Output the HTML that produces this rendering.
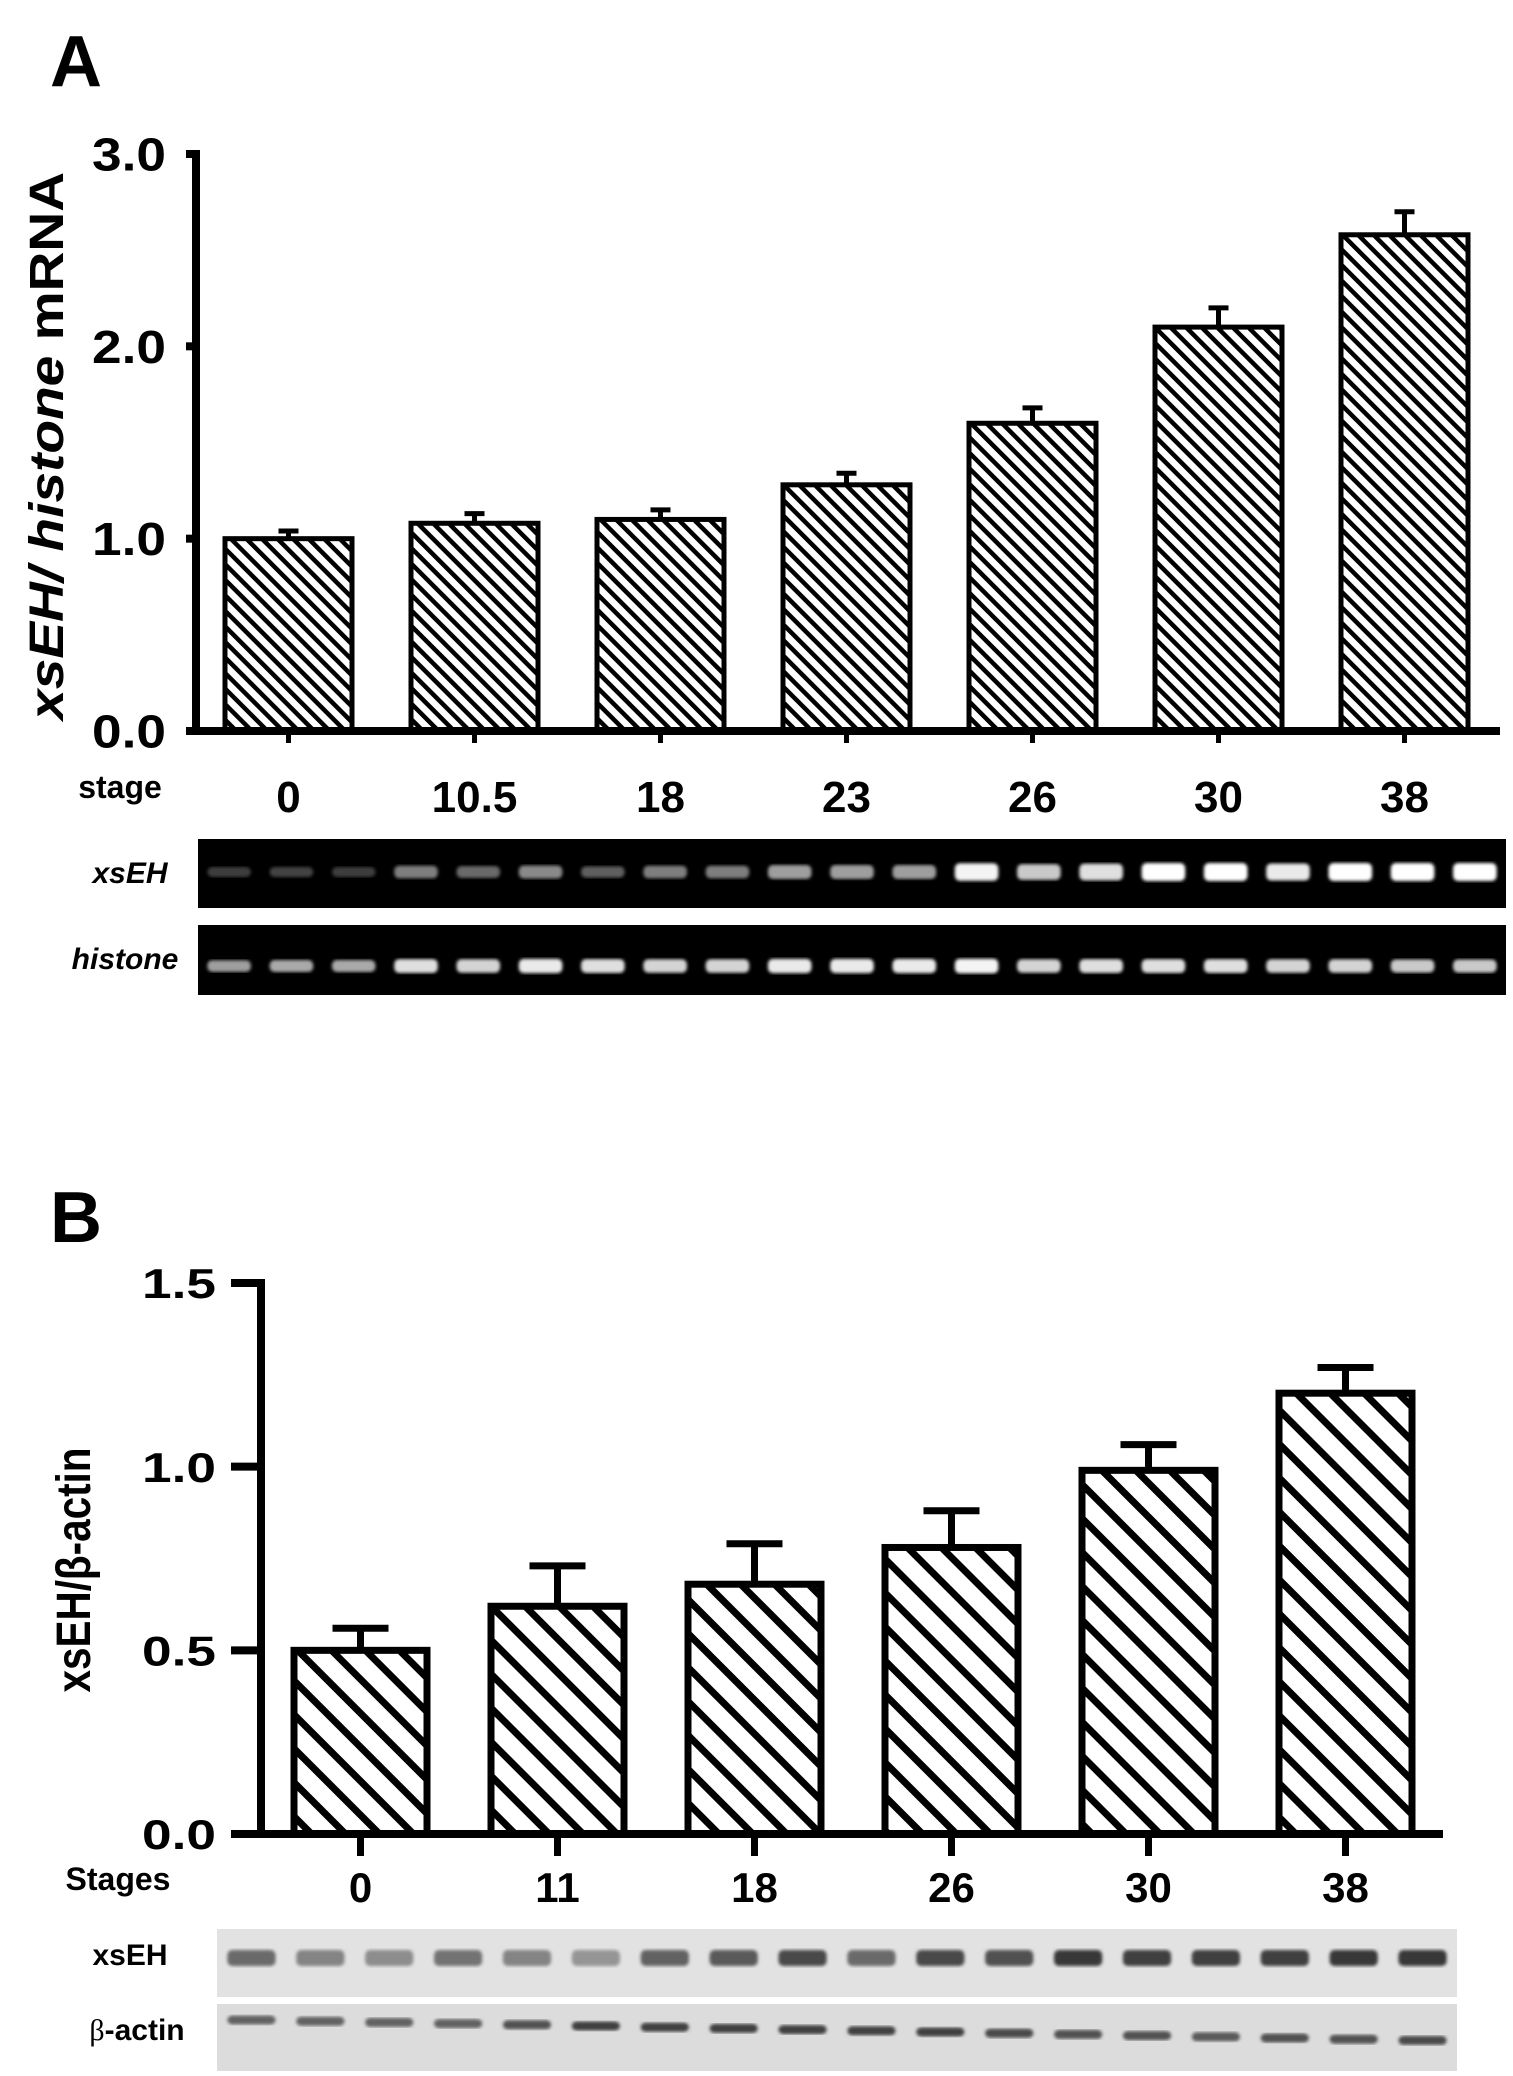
<!DOCTYPE html>
<html><head><meta charset="utf-8"><style>
html,body{margin:0;padding:0;background:#fff;}
svg{display:block;font-family:"Liberation Sans",Arial,sans-serif;}
</style></head><body>
<svg id="fig" width="1513" height="2076" viewBox="0 0 1513 2076" xmlns="http://www.w3.org/2000/svg">
<defs>
<pattern id="hatchA" patternUnits="userSpaceOnUse" width="11" height="11" patternTransform="rotate(-45)">
<rect width="11" height="11" fill="#fff"/><rect x="0" y="0" width="4.5" height="11" fill="#000"/></pattern>
<pattern id="hatchB" patternUnits="userSpaceOnUse" width="24" height="24" patternTransform="rotate(-45)">
<rect width="24" height="24" fill="#fff"/><rect x="0" y="0" width="7" height="24" fill="#000"/></pattern>
<filter id="blur1"><feGaussianBlur stdDeviation="1.5"/></filter>
</defs>
<text x="50" y="86" font-size="72" font-weight="bold">A</text>
<text x="50" y="1242" font-size="72" font-weight="bold">B</text>
<g id="chartA"></g>
<g id="chartB"></g>
<g id="gels"></g>
</svg>
<script>
const NS="http://www.w3.org/2000/svg";
const catsA=["0","10.5","18","23","26","30","38"];
const valsA=[1.0,1.08,1.1,1.28,1.6,2.1,2.58];
const errsA=[0.04,0.05,0.05,0.06,0.08,0.1,0.12];
const ticksA=["0.0","1.0","2.0","3.0"];
const catsB=["0","11","18","26","30","38"];
const valsB=[0.5,0.62,0.68,0.78,0.99,1.2];
const errsB=[0.06,0.11,0.11,0.1,0.07,0.07];
const ticksB=["0.0","0.5","1.0","1.5"];
const gelA_xsEH=[0.1,0.12,0.1,0.4,0.3,0.45,0.25,0.4,0.4,0.55,0.55,0.55,0.95,0.75,0.85,1,1,0.9,1,1,1];
const gelA_hist=[0.55,0.6,0.6,0.85,0.8,0.9,0.85,0.8,0.8,0.9,0.9,0.9,0.95,0.8,0.85,0.85,0.85,0.8,0.8,0.75,0.75];
const blotB_xsEH=[0.55,0.4,0.35,0.5,0.4,0.3,0.6,0.65,0.75,0.55,0.75,0.7,0.85,0.8,0.8,0.8,0.85,0.85];
const blotB_actin=[0.6,0.6,0.6,0.6,0.7,0.8,0.8,0.8,0.8,0.8,0.8,0.75,0.7,0.7,0.65,0.7,0.7,0.75];
function el(t,a,p){const e=document.createElementNS(NS,t);for(const k in a)e.setAttribute(k,a[k]);p.appendChild(e);return e;}
function chart(g,o){
  const y=v=>o.y0-(v/o.max)*(o.y0-o.yTop);
  const x=i=>o.x0+i*o.pitch;
  o.vals.forEach((v,i)=>{
    const cx=x(i)+o.bw/2, top=y(v), et=y(v+o.errs[i]);
    const l=el("line",{x1:cx,y1:top,x2:cx,y2:et,stroke:"#000","stroke-width":o.lw},g);
    
    
    const c=el("line",{x1:cx-o.cap,y1:et,x2:cx+o.cap,y2:et,stroke:"#000","stroke-width":o.lw},g);
    
    
    const r=el("rect",{x:x(i),y:top,width:o.bw,height:o.y0-top,fill:o.fill,stroke:"#000","stroke-width":o.lw},g);
    
    
    const tk=el("line",{x1:cx,y1:o.y0,x2:cx,y2:o.y0+o.tick,stroke:"#000","stroke-width":o.lw},g);
    
    
    const t=el("text",{x:cx,y:o.labY,"font-size":o.fs,"font-weight":"bold","text-anchor":"middle"},g);
    t.textContent=o.cats[i];
    
    
  });
  const ax=el("line",{x1:o.ax,y1:o.yTop-4,x2:o.ax,y2:o.y0+o.lw/2,stroke:"#000","stroke-width":o.axw},g);
  
  
  const xa=el("line",{x1:o.ax-o.axw/2,y1:o.y0,x2:o.xEnd,y2:o.y0,stroke:"#000","stroke-width":o.axw},g);
  
  
  o.ticks.forEach(tl=>{
    const v=parseFloat(tl), yy=y(v);
    const tm=el("line",{x1:o.ax-o.tlen,y1:yy,x2:o.ax,y2:yy,stroke:"#000","stroke-width":o.axw},g);
    
    
    const t=el("text",{x:o.labEnd-o.labW,y:yy+o.tfs*0.36,"font-size":o.tfs,"font-weight":"bold",textLength:o.labW,lengthAdjust:"spacingAndGlyphs"},g);
    t.textContent=tl;
    
    
  });
}
const gA=document.getElementById("chartA"), gB=document.getElementById("chartB");
chart(gA,{cats:catsA,vals:valsA,errs:errsA,ticks:ticksA,max:3,y0:731,yTop:154,x0:225,pitch:186,bw:127,ax:196,xEnd:1500,lw:5,axw:8,cap:10,tick:12,tlen:10,fill:"url(#hatchA)",labY:812,fs:44,tfs:46,labW:74,labEnd:166});
chart(gB,{cats:catsB,vals:valsB,errs:errsB,ticks:ticksB,max:1.5,y0:1834,yTop:1283,x0:294,pitch:197,bw:133,ax:261,xEnd:1443,lw:7,axw:8,cap:28,tick:22,tlen:30,fill:"url(#hatchB)",labY:1902,fs:42,tfs:42,labW:74,labEnd:216});
function txt(a,s,p,name){const t=el("text",a,p);t.textContent=s;return t;}
txt({x:120,y:798,"font-size":32,"font-weight":"bold","text-anchor":"middle"},"stage",gA,"stage-label");
const yt=el("text",{x:0,y:0,"font-size":48,"font-weight":"bold","text-anchor":"middle",textLength:548,lengthAdjust:"spacingAndGlyphs",transform:"translate(63,446) rotate(-90)"},gA);

yt.innerHTML='<tspan font-style="italic">xsEH/ histone</tspan> mRNA';
txt({x:118,y:1890,"font-size":32,"font-weight":"bold","text-anchor":"middle"},"Stages",gB,"stages-label");
const yb=el("text",{x:0,y:0,"font-size":48,"font-weight":"bold","text-anchor":"middle",textLength:245,lengthAdjust:"spacingAndGlyphs",transform:"translate(90,1570) rotate(-90)"},gB);

yb.textContent="xsEH/β-actin";
const gg=document.getElementById("gels");
function gel(x0,y0,w,h,vals,bg,dark,name,bh,bandY){
  const r=el("rect",{x:x0,y:y0,width:w,height:h,fill:bg},gg);
  
  const lw=w/vals.length;
  vals.forEach((v,i)=>{
    let col;
    if(dark){const c=Math.round(40+215*v);col=`rgb(${c},${c},${c})`;}
    else{const c=Math.round(200-170*v);col=`rgb(${c},${c},${c})`;}
    const hh=bh*(dark?0.5+0.5*v:1);
    const b=el("rect",{x:x0+i*lw+lw*0.15,y:bandY(i)-hh/2,width:lw*0.7,height:hh,rx:5,fill:col,filter:"url(#blur1)"},gg);
    
  });
}
gel(198,839,1308,69,gelA_xsEH,"#000",true,"gel-xseh",18,i=>872);
gel(198,925,1308,70,gelA_hist,"#000",true,"gel-histone",15,i=>966);
gel(217,1929,1240,68,blotB_xsEH,"#e2e2e2",false,"blot-xseh",16,i=>1958);
gel(217,2004,1240,67,blotB_actin,"#dcdcdc",false,"blot-actin",9,i=>2020+i*1.2);
txt({x:130,y:883,"font-size":30,"font-weight":"bold","font-style":"italic","text-anchor":"middle"},"xsEH",gg,"gel-label-xseh");
txt({x:125,y:969,"font-size":30,"font-weight":"bold","font-style":"italic","text-anchor":"middle"},"histone",gg,"gel-label-histone");
txt({x:130,y:1965,"font-size":30,"font-weight":"bold","text-anchor":"middle"},"xsEH",gg,"blot-label-xseh");
const ba=el("text",{x:137,y:2040,"font-size":30,"font-weight":"bold","text-anchor":"middle"},gg);

ba.innerHTML='<tspan font-family="Liberation Serif,serif" font-weight="normal">β</tspan>-actin';
</script>
</body></html>
